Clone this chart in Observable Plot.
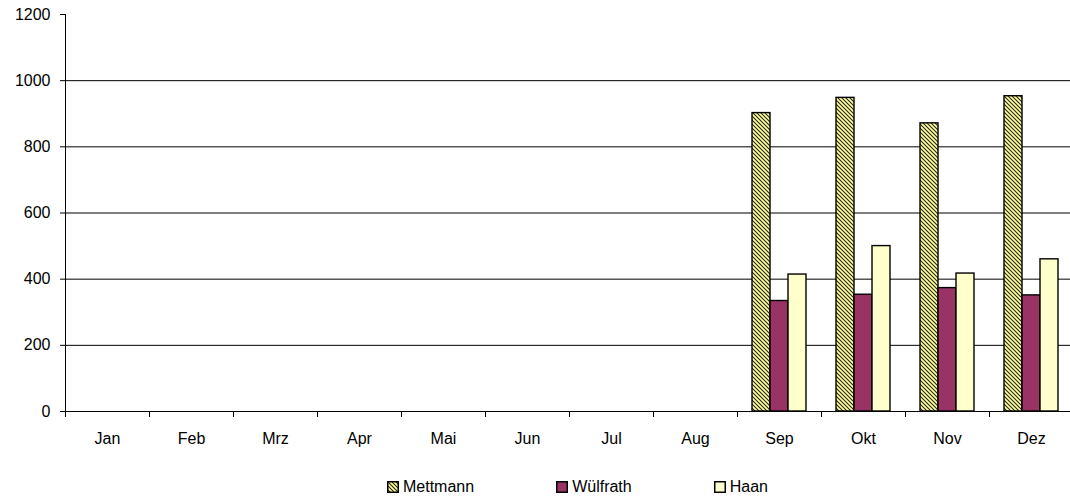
<!DOCTYPE html>
<html>
<head>
<meta charset="utf-8">
<script src="https://cdn.jsdelivr.net/npm/d3@7"></script>
<script src="https://cdn.jsdelivr.net/npm/@observablehq/plot@0.6"></script>
<style>
  body { margin: 0; background: white; }
  #wrap { position: relative; width: 1070px; height: 499px; overflow: hidden; background: white;
          font-family: "Liberation Sans", Arial, sans-serif; font-size: 16px; color: black; }
  #legend { position: absolute; left: 387px; top: 478px; display: flex; gap: 82px; line-height: 18px; }
  #legend .item { display: flex; align-items: center; gap: 4px; }
  #legend svg { display: block; }
</style>
</head>
<body>
<div id="wrap">
  <div id="chart"></div>
  <div id="legend"></div>
</div>
<script>
// Monthly categories and tick values
const months = ["Jan", "Feb", "Mrz", "Apr", "Mai", "Jun", "Jul", "Aug", "Sep", "Okt", "Nov", "Dez"];
const series = ["Mettmann", "Wülfrath", "Haan"];
const yTicks = [0, 200, 400, 600, 800, 1000, 1200];
const gridValues = [200, 400, 600, 800, 1000];

// Months with recorded values and the series values for them
const dataMonths = ["Sep", "Okt", "Nov", "Dez"];
const mettmann = [902, 948, 871, 953];
const wuelfrath = [334, 353, 373, 351];
const haan = [414, 500, 417, 460];

const seriesFills = ["url(#hatch-mettmann)", "#993366", "#FFFFCC"];

const valuesBySeries = [mettmann, wuelfrath, haan];
const rows = dataMonths.flatMap((month, i) =>
  series.map((name, s) => ({month, series: name, value: valuesBySeries[s][i]}))
);
// horizontal lines repeated in every month panel so all panels are drawn
const gridRows = months.flatMap((month) => gridValues.map((value) => ({month, value})));
const baseRows = months.map((month) => ({month, value: 0}));

const marginTop = 14, marginBottom = 49, svgHeight = 460;
const plotHeight = svgHeight - marginTop - marginBottom;

const chart = Plot.plot({
  width: 1077,
  height: svgHeight,
  marginLeft: 61,
  marginRight: 0,
  marginTop,
  marginBottom,
  style: {fontFamily: "'Liberation Sans', Arial, sans-serif", fontSize: "16px", background: "white", color: "black"},
  fx: {domain: months, padding: 0, label: null, axis: "bottom", tickSize: 0, tickPadding: 21},
  x: {domain: series, paddingInner: 0, paddingOuter: 0.75, axis: null},
  y: {domain: [0, 1200], ticks: yTicks, tickFormat: "d", tickSize: 5, tickPadding: 10, label: null},
  color: {domain: series, range: seriesFills},
  marks: [
    Plot.ruleY(gridRows, {fx: "month", y: "value", stroke: "black", strokeWidth: 1}),
    Plot.barY(rows, {fx: "month", x: "series", y: "value", fill: "series", stroke: "black", strokeWidth: 1.4}),
    Plot.ruleY(baseRows, {fx: "month", y: "value", stroke: "black"}),
    // tick marks at the boundaries between months
    Plot.frame({anchor: "left", insetTop: plotHeight, insetBottom: -5, stroke: "black"}),
    // value axis line
    Plot.frame({anchor: "left", fx: ["Jan"], insetBottom: -5, stroke: "black"})
  ]
});
chart.style.maxWidth = "none";

// diagonal hatch used by the Mettmann bars
function addHatch(svgSel, id) {
  const p = svgSel.insert("defs", ":first-child").append("pattern")
    .attr("id", id).attr("patternUnits", "userSpaceOnUse")
    .attr("width", 4).attr("height", 4);
  p.append("rect").attr("width", 4).attr("height", 4).attr("fill", "#FFFF99");
  p.append("path").attr("d", "M-1,-1L5,5M-1,3L1,5M3,-1L5,1")
    .attr("stroke", "#222").attr("stroke-width", 1.05);
}
addHatch(d3.select(chart), "hatch-mettmann");
document.getElementById("chart").appendChild(chart);

// legend below the chart
const legend = d3.select("#legend");
series.forEach((name, i) => {
  const item = legend.append("div").attr("class", "item");
  const sw = item.append("svg").attr("width", 12).attr("height", 12);
  if (i === 0) addHatch(sw, "hatch-legend");
  sw.append("rect").attr("x", 0.75).attr("y", 0.75).attr("width", 10.5).attr("height", 10.5)
    .attr("fill", i === 0 ? "url(#hatch-legend)" : seriesFills[i])
    .attr("stroke", "black").attr("stroke-width", 1.5);
  item.append("span").text(name);
});
</script>
</body>
</html>
